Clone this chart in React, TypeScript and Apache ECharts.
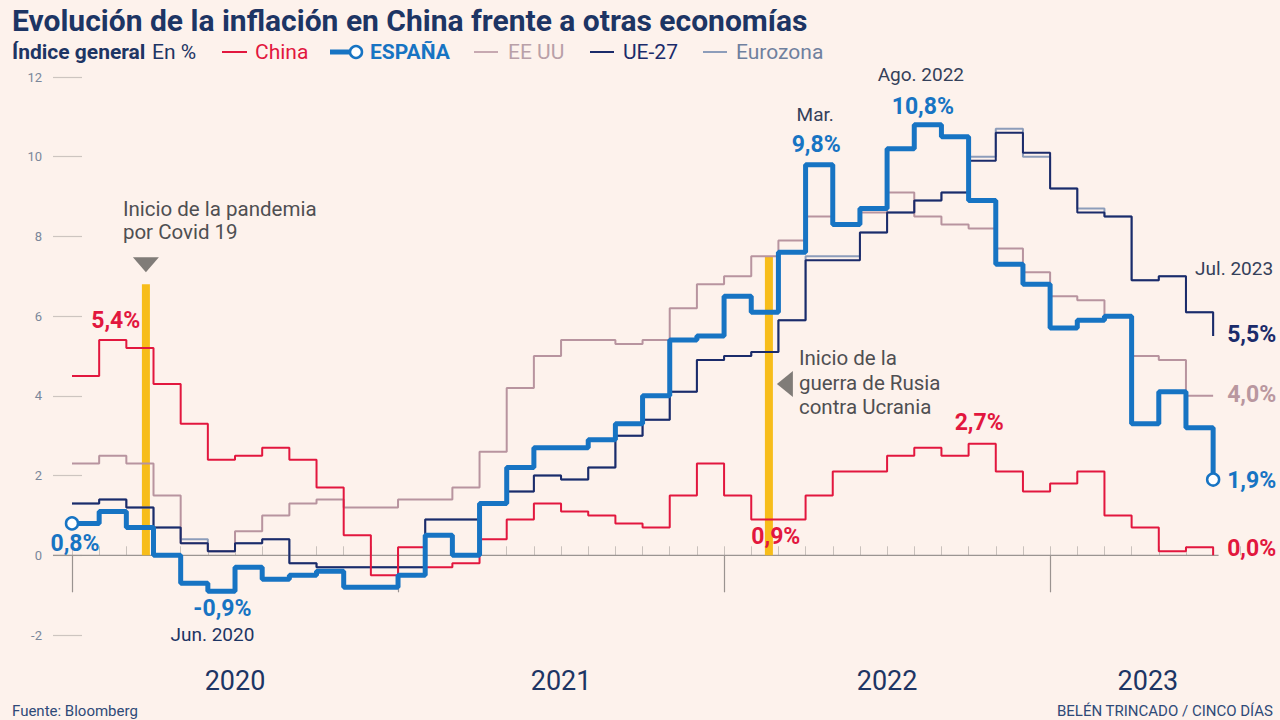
import { useEffect, useRef } from 'react';
import * as echarts from 'echarts';

// ---- Data (monthly, index 0 = first month shown) ----
const china = [4.5, 5.4, 5.2, 4.3, 3.3, 2.4, 2.5, 2.7, 2.4, 1.7, 0.5, -0.5, 0.2, -0.3, -0.2, 0.4, 0.9, 1.3, 1.1, 1.0, 0.8, 0.7, 1.5, 2.3, 1.5, 0.9, 0.9, 1.5, 2.1, 2.1, 2.5, 2.7, 2.5, 2.8, 2.1, 1.6, 1.8, 2.1, 1.0, 0.7, 0.1, 0.2, 0.0];
const espana = [0.8, 1.1, 0.7, 0.0, -0.7, -0.9, -0.3, -0.6, -0.5, -0.4, -0.8, -0.8, -0.5, 0.5, 0.0, 1.3, 2.2, 2.7, 2.7, 2.9, 3.3, 4.0, 5.4, 5.5, 6.5, 6.1, 7.6, 9.8, 8.3, 8.7, 10.2, 10.8, 10.5, 8.9, 7.3, 6.8, 5.7, 5.9, 6.0, 3.3, 4.1, 3.2, 1.9];
const eeuu = [2.3, 2.5, 2.3, 1.5, 0.3, 0.1, 0.6, 1.0, 1.3, 1.4, 1.2, 1.2, 1.4, 1.4, 1.7, 2.6, 4.2, 5.0, 5.4, 5.4, 5.3, 5.4, 6.2, 6.8, 7.0, 7.5, 7.9, 8.5, 8.3, 8.6, 9.1, 8.5, 8.3, 8.2, 7.7, 7.1, 6.5, 6.4, 6.0, 5.0, 4.9, 4.0, 4.0];
const ue27 = [1.3, 1.4, 1.2, 0.7, 0.3, 0.1, 0.3, 0.4, -0.2, -0.3, -0.3, -0.3, -0.3, 0.9, 0.9, 1.3, 1.6, 2.0, 1.9, 2.2, 3.0, 3.4, 4.1, 4.9, 5.0, 5.1, 5.9, 7.4, 7.4, 8.1, 8.6, 8.9, 9.1, 9.9, 10.6, 10.1, 9.2, 8.6, 8.5, 6.9, 7.0, 6.1, 5.5];
const eurozona = [1.3, 1.4, 1.2, 0.7, 0.4, 0.1, 0.3, 0.4, -0.2, -0.3, -0.3, -0.3, -0.3, 0.9, 0.9, 1.3, 1.6, 2.0, 1.9, 2.2, 3.0, 3.4, 4.1, 4.9, 5.0, 5.1, 5.9, 7.5, 7.5, 8.1, 8.6, 8.9, 9.1, 10.0, 10.7, 10.0, 9.2, 8.7, 8.5, 6.9, 7.0, 6.1, 5.5];

const yearLabels = ['2020', '2021', '2022', '2023'];
const yearLabelPos = [6, 18, 30, 39.6];
const yearTickPos = [0, 12, 24, 36];
const monthTickPos = Array.from({ length: 44 }, (_, i) => i);
const yTicks = { min: -2, max: 12, step: 2 };

// events (x index, top value)
const covid = { x: 2.72, top: 6.8 };
const war = { x: 25.65, top: 7.5, textAt: 4.3 };

const NAVY = '#1d3564';
const RED = '#e2173e';
const BLUE = '#1774c3';
const MAUVE = '#b8949f';
const DNAVY = '#1b2b6a';
const LIGHT = '#8d9dba';
const YELLOW = '#f7bd1a';
const BG = '#fdf2ec';
const FONT = 'Roboto, "Noto Sans", sans-serif';

export default function App() {
  const ref = useRef<HTMLDivElement>(null);

  useEffect(() => {
    if (!ref.current) return;
    const chart = echarts.init(ref.current, null, { renderer: 'svg' });
    const toXY = (arr: number[]) => arr.map((v, i) => [i, v]);
    const thin = (name: string, data: number[], color: string, z: number) => ({
      type: 'line',
      name,
      step: 'end',
      data: toXY(data),
      symbol: 'none',
      lineStyle: { color, width: 2 },
      z,
      silent: true,
    });
    const yBase = {
      type: 'value',
      min: yTicks.min,
      max: yTicks.max,
      interval: yTicks.step,
      axisLine: { show: false },
      splitLine: { show: false },
    };

    chart.setOption({
      animation: false,
      backgroundColor: BG,
      textStyle: { fontFamily: FONT },
      grid: { left: 72, right: 39.7, top: 77, bottom: 85, containLabel: false },
      xAxis: [
        {
          type: 'value',
          min: 0,
          max: 43,
          offset: 2,
          axisLine: { show: false },
          splitLine: { show: false },
          axisTick: { show: true, customValues: yearTickPos, length: 37, lineStyle: { color: '#9a9390', width: 1.2 } },
          axisLabel: {
            customValues: yearLabelPos,
            margin: 30,
            fontSize: 27,
            color: NAVY,
            fontFamily: FONT,
            formatter: (v: number) => {
              let best = 0;
              yearLabelPos.forEach((p, k) => {
                if (Math.abs(p - v) < Math.abs(yearLabelPos[best] - v)) best = k;
              });
              return yearLabels[best];
            },
          },
        },
        {
          type: 'value',
          min: 0,
          max: 43,
          offset: 17,
          axisLine: { show: false },
          splitLine: { show: false },
          axisLabel: { show: false },
          axisTick: { show: true, customValues: monthTickPos, length: 9, lineStyle: { color: '#c9c1bc', width: 1 } },
        },
      ],
      yAxis: [
        {
          ...yBase,
          axisTick: { show: true, inside: false, length: 19, lineStyle: { color: '#cdc5c0', width: 1.2 } },
          axisLabel: { margin: 30, fontSize: 13, color: '#7b879a', fontFamily: FONT },
        },
        {
          ...yBase,
          position: 'left',
          axisTick: { show: true, inside: true, length: 10, lineStyle: { color: '#cdc5c0', width: 1.2 } },
          axisLabel: { show: false },
        },
      ],
      series: [
        thin('Eurozona', eurozona, LIGHT, 2),
        thin('EE UU', eeuu, MAUVE, 3),
        thin('UE-27', ue27, DNAVY, 4),
        thin('China', china, RED, 5),
        {
          type: 'line',
          name: 'ESPAÑA',
          step: 'end',
          z: 6,
          silent: true,
          symbol: 'none',
          showSymbol: true,
          lineStyle: { color: BLUE, width: 5 },
          data: espana.map((v, i) =>
            i === 0 || i === espana.length - 1
              ? { value: [i, v], symbol: 'circle', symbolSize: 12, itemStyle: { color: '#ffffff', borderColor: BLUE, borderWidth: 2.5 } }
              : [i, v]
          ),
        },
      ],
    });

    const px = (x: number, y: number) => chart.convertToPixel({ gridIndex: 0 }, [x, y]) as number[];

    const txt = (text: string, x: number, y: number, o: any = {}) => ({
      type: 'text',
      x,
      y,
      z: 20,
      silent: true,
      style: {
        text,
        fill: o.fill || NAVY,
        fontSize: o.size || 18,
        fontWeight: o.bold ? 'bold' : 'normal',
        fontFamily: FONT,
        align: o.align || 'left',
        verticalAlign: 'middle',
      },
    });
    const at = (text: string, ix: number, v: number, dx: number, dy: number, o: any = {}) => {
      const p = px(ix, v);
      return txt(text, p[0] + dx, p[1] + dy, o);
    };

    const zeroA = px(-0.7, 0);
    const zeroB = px(42.2, 0);
    const cTop = px(covid.x, covid.top);
    const cBot = px(covid.x, 0);
    const wTop = px(war.x, war.top);
    const wBot = px(war.x, 0);
    const wText = px(war.x, war.textAt);
    const lbl = { size: 23, bold: true };
    const note = { size: 19, fill: '#34405a' };
    const ann = { size: 20.5, fill: '#4f4f52' };
    const leg = 21;

    const graphic: any[] = [
      // title & legend
      txt('Evolución de la inflación en China frente a otras economías', 12, 20, { size: 30, bold: true }),
      txt('Índice general', 12, 52, { size: leg, bold: true }),
      txt('En %', 152, 52, { size: leg }),
      { type: 'line', shape: { x1: 222, y1: 52, x2: 247, y2: 52 }, style: { stroke: RED, lineWidth: 2 } },
      txt('China', 255, 52, { size: leg, fill: RED }),
      { type: 'line', shape: { x1: 330, y1: 52, x2: 352, y2: 52 }, style: { stroke: BLUE, lineWidth: 5 } },
      { type: 'circle', shape: { cx: 356, cy: 52, r: 6 }, style: { fill: '#ffffff', stroke: BLUE, lineWidth: 2.5 } },
      txt('ESPAÑA', 370, 52, { size: leg, bold: true, fill: BLUE }),
      { type: 'line', shape: { x1: 474, y1: 52, x2: 498, y2: 52 }, style: { stroke: '#c7a9b1', lineWidth: 2 } },
      txt('EE UU', 508, 52, { size: leg, fill: '#b9a0a8' }),
      { type: 'line', shape: { x1: 590, y1: 52, x2: 614, y2: 52 }, style: { stroke: DNAVY, lineWidth: 2 } },
      txt('UE-27', 623, 52, { size: leg, fill: DNAVY }),
      { type: 'line', shape: { x1: 703, y1: 52, x2: 727, y2: 52 }, style: { stroke: LIGHT, lineWidth: 2 } },
      txt('Eurozona', 736, 52, { size: leg, fill: '#6f809e' }),
      // footer
      txt('Fuente: Bloomberg', 12, 711, { size: 15, fill: '#2f4a78' }),
      txt('BELÉN TRINCADO / CINCO DÍAS', 1273, 711, { size: 15, fill: '#2f4a78', align: 'right' }),
      // zero line
      { type: 'line', z: 1, silent: true, shape: { x1: zeroA[0], y1: zeroA[1], x2: zeroB[0], y2: zeroB[1] }, style: { stroke: '#9b9592', lineWidth: 1.2 } },
      // event bars (under lines)
      { type: 'rect', z: 1, silent: true, shape: { x: cTop[0] - 4, y: cTop[1], width: 8, height: cBot[1] - cTop[1] }, style: { fill: YELLOW } },
      { type: 'rect', z: 1, silent: true, shape: { x: wTop[0] - 4, y: wTop[1], width: 8, height: wBot[1] - wTop[1] }, style: { fill: YELLOW } },
      // covid annotation
      { type: 'polygon', z: 20, shape: { points: [[cTop[0] - 13, cTop[1] - 27], [cTop[0] + 13, cTop[1] - 27], [cTop[0], cTop[1] - 12]] }, style: { fill: '#807c78' } },
      txt('Inicio de la pandemia', cTop[0] - 23, cTop[1] - 75, ann),
      txt('por Covid 19', cTop[0] - 23, cTop[1] - 52, ann),
      // war annotation
      { type: 'polygon', z: 20, shape: { points: [[wText[0] + 8, wText[1]], [wText[0] + 24, wText[1] - 13], [wText[0] + 24, wText[1] + 13]] }, style: { fill: '#807c78' } },
      txt('Inicio de la', wText[0] + 30, wText[1] - 26, ann),
      txt('guerra de Rusia', wText[0] + 30, wText[1] - 1, ann),
      txt('contra Ucrania', wText[0] + 30, wText[1] + 23, ann),
      // value labels
      at('5,4%', 1.5, 5.4, 3, -20, { ...lbl, fill: RED, align: 'center' }),
      at('0,8%', 0, 0.8, 3, 20, { ...lbl, fill: BLUE, align: 'center' }),
      at('-0,9%', 5.5, -0.9, 1, 17, { ...lbl, fill: BLUE, align: 'center' }),
      at('Jun. 2020', 5.5, -0.9, -9, 43, { ...note, fill: NAVY, align: 'center' }),
      at('Mar.', 27.5, 9.8, -4, -50, { ...note, align: 'center' }),
      at('9,8%', 27.5, 9.8, -3, -20, { ...lbl, fill: BLUE, align: 'center' }),
      at('Ago. 2022', 31.5, 10.8, -7, -50, { ...note, align: 'center' }),
      at('10,8%', 31.5, 10.8, -5, -18, { ...lbl, fill: BLUE, align: 'center' }),
      at('Jul. 2023', 42, 5.5, 60, -68, { ...note, align: 'right' }),
      at('5,5%', 42, 5.5, 14, -2, { ...lbl, fill: DNAVY }),
      at('4,0%', 42, 4.0, 14, -1, { ...lbl, fill: '#b9979f' }),
      at('1,9%', 42, 1.9, 14, 1, { ...lbl, fill: BLUE }),
      at('0,0%', 42, 0, 14, -7, { ...lbl, fill: RED }),
      at('2,7%', 33.5, 2.8, -3, -21, { ...lbl, fill: RED, align: 'center' }),
      at('0,9%', 25.5, 0.9, 11, 17, { ...lbl, fill: RED, align: 'center' }),
    ];

    chart.setOption({ graphic });

    return () => chart.dispose();
  }, []);

  return (
    <div
      ref={ref}
      style={{ position: 'fixed', left: 0, top: 0, width: 1280, height: 720, background: BG }}
    />
  );
}
